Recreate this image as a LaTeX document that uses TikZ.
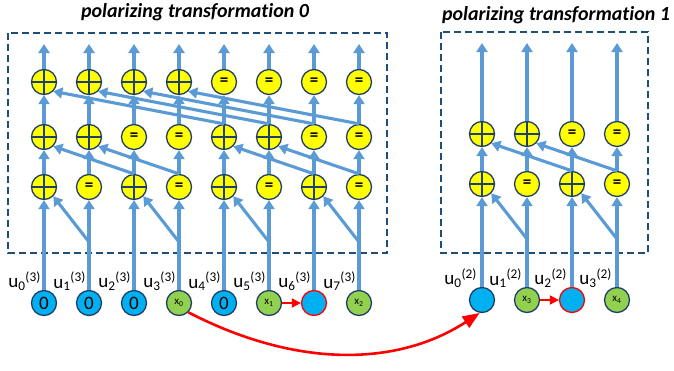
\documentclass[tikz,border=0pt]{standalone}
\usepackage{fontspec}
\setmainfont{Carlito}[Ligatures=NoCommon]
\usetikzlibrary{arrows.meta}

\definecolor{wire}{HTML}{5B9BD5}
\definecolor{rim}{HTML}{1F3F66}
\definecolor{frame}{HTML}{1F4E79}
\definecolor{zerofill}{HTML}{00B0F0}
\definecolor{datafill}{HTML}{92D050}
\definecolor{gatefill}{HTML}{FFFF00}

\tikzset{
  wire/.style={draw=wire, line width=3.1pt, -{Triangle[width=11pt,length=9pt]}},
  gate/.style={circle, draw=rim, fill=gatefill, line width=1.3pt, minimum size=25pt, inner sep=0pt},
  xorgate/.style={gate, path picture={
      \draw[rim, line width=1.3pt] (path picture bounding box.north) -- (path picture bounding box.south)
                                   (path picture bounding box.west) -- (path picture bounding box.east);}},
  eqgate/.style={gate, font=\bfseries\fontsize{17}{17}\selectfont},
  bit/.style={circle, draw=rim, line width=1.3pt, minimum size=25pt, inner sep=0pt},
  zerobit/.style={bit, fill=zerofill, font=\fontsize{19}{19}\selectfont},
  databit/.style={bit, fill=datafill, font=\fontsize{11}{11}\selectfont},
  frozen/.style={bit, fill=zerofill, draw=red},
  ulab/.style={anchor=south east, inner sep=0pt, font=\fontsize{19}{19}\selectfont},
  title/.style={font=\bfseries\itshape\fontsize{20}{20}\selectfont},
  box/.style={draw=frame, line width=2.2pt, dash pattern=on 7pt off 4pt},
  move/.style={draw=red, line width=2.6pt, -{Triangle[width=9pt,length=9pt]}},
}

\begin{document}
\begin{tikzpicture}[x=1pt, y=-1pt]
\useasboundingbox (0,0) rectangle (674,370);

% titles and frames
\node[title] (head0) at (195,12) {polarizing transformation 0};
\node[title] (head1) at (556,15) {polarizing transformation 1};
\draw[box] (8,33) rectangle (387,253);
\draw[box] (441,32) rectangle (648,253);

% transformation 0: inputs
\foreach \i in {0,1,2,4}
	\node[zerobit] (in\i) at ({44+45*\i},303) {0};
\node[databit] (in3) at ({44+45*3},303) {x\textsubscript{0}};
\node[databit] (in5) at ({44+45*5},303) {x\textsubscript{1}};
\node[frozen]  (in6) at ({44+45*6},303) {};
\node[databit] (in7) at ({44+45*7},303) {x\textsubscript{2}};
\foreach \i in {0,...,7}
	\node[ulab] (lab\i) at ([xshift=-3pt,yshift=-1pt]in\i.north) {u\textsubscript{\i}\textsuperscript{(3)}};

% transformation 0: gates
\foreach \i in {0,2,4,6}
	\node[xorgate] (a\i) at ({44+45*\i},187) {};
\foreach \i in {1,3,5,7}
	\node[eqgate] (a\i) at ({44+45*\i},187) {=};
\foreach \i in {0,1,4,5}
	\node[xorgate] (b\i) at ({44+45*\i},137) {};
\foreach \i in {2,3,6,7}
	\node[eqgate] (b\i) at ({44+45*\i},137) {=};
\foreach \i in {0,...,3}
	\node[xorgate] (c\i) at ({44+45*\i},82) {};
\foreach \i in {4,...,7}
	\node[eqgate] (c\i) at ({44+45*\i},82) {=};
\foreach \i in {0,...,7}
	\coordinate (t\i) at ({44+45*\i},44);
\foreach \i in {1,3,5,7}
	\coordinate (s\i) at ({44+45*\i},242);

% transformation 0: wires
\foreach \i in {0,...,7} {
	\draw[wire] (in\i) -- (a\i);
	\draw[wire] (a\i) -- (b\i);
	\draw[wire] (b\i) -- (c\i);
	\draw[wire] (c\i) -- (t\i);
}
\foreach \i/\j in {0/1,2/3,4/5,6/7}
	\draw[wire] (s\j) -- (a\i.-45);
\foreach \i/\j in {0/2,1/3,4/6,5/7}
	\draw[wire] (a\j.north) -- (b\i.-45);
\foreach \i/\j in {0/4,1/5,2/6,3/7}
	\draw[wire] (b\j.north) -- (c\i.-45);

% transformation 1: inputs
\node[zerobit] (rin0) at (482,300) {};
\node[databit] (rin1) at ({482+45},300) {x\textsubscript{3}};
\node[frozen]  (rin2) at ({482+45*2},300) {};
\node[databit] (rin3) at ({482+45*3},300) {x\textsubscript{4}};
\foreach \i in {0,...,3}
	\node[ulab] (rlab\i) at ([xshift=-5pt,yshift=-1pt]rin\i.north) {u\textsubscript{\i}\textsuperscript{(2)}};

% transformation 1: gates
\foreach \i in {0,2}
	\node[xorgate] (ra\i) at ({482+45*\i},184) {};
\foreach \i in {1,3}
	\node[eqgate] (ra\i) at ({482+45*\i},184) {=};
\foreach \i in {0,1}
	\node[xorgate] (rb\i) at ({482+45*\i},134) {};
\foreach \i in {2,3}
	\node[eqgate] (rb\i) at ({482+45*\i},134) {=};
\foreach \i in {0,...,3}
	\coordinate (rt\i) at ({482+45*\i},43);
\foreach \i in {1,3}
	\coordinate (rs\i) at ({482+45*\i},239);

% transformation 1: wires
\foreach \i in {0,...,3} {
	\draw[wire] (rin\i) -- (ra\i);
	\draw[wire] (ra\i) -- (rb\i);
	\draw[wire] (rb\i) -- (rt\i);
}
\foreach \i/\j in {0/1,2/3}
	\draw[wire] (rs\j) -- (ra\i.-45);
\foreach \i/\j in {0/2,1/3}
	\draw[wire] (ra\j.north) -- (rb\i.-45);

% moves of the data bits
\draw[move, line width=2pt, -{Triangle[width=9pt,length=9pt]}] (in5) -- (in6);
\draw[move, line width=2pt, -{Triangle[width=9pt,length=9pt]}] (rin1) -- (rin2);
\draw[move, -{Triangle[width=13pt,length=17pt]}] (in3.south east) .. controls (300,370) and (400,365) .. (rin0.-100);

\end{tikzpicture}
\end{document}
